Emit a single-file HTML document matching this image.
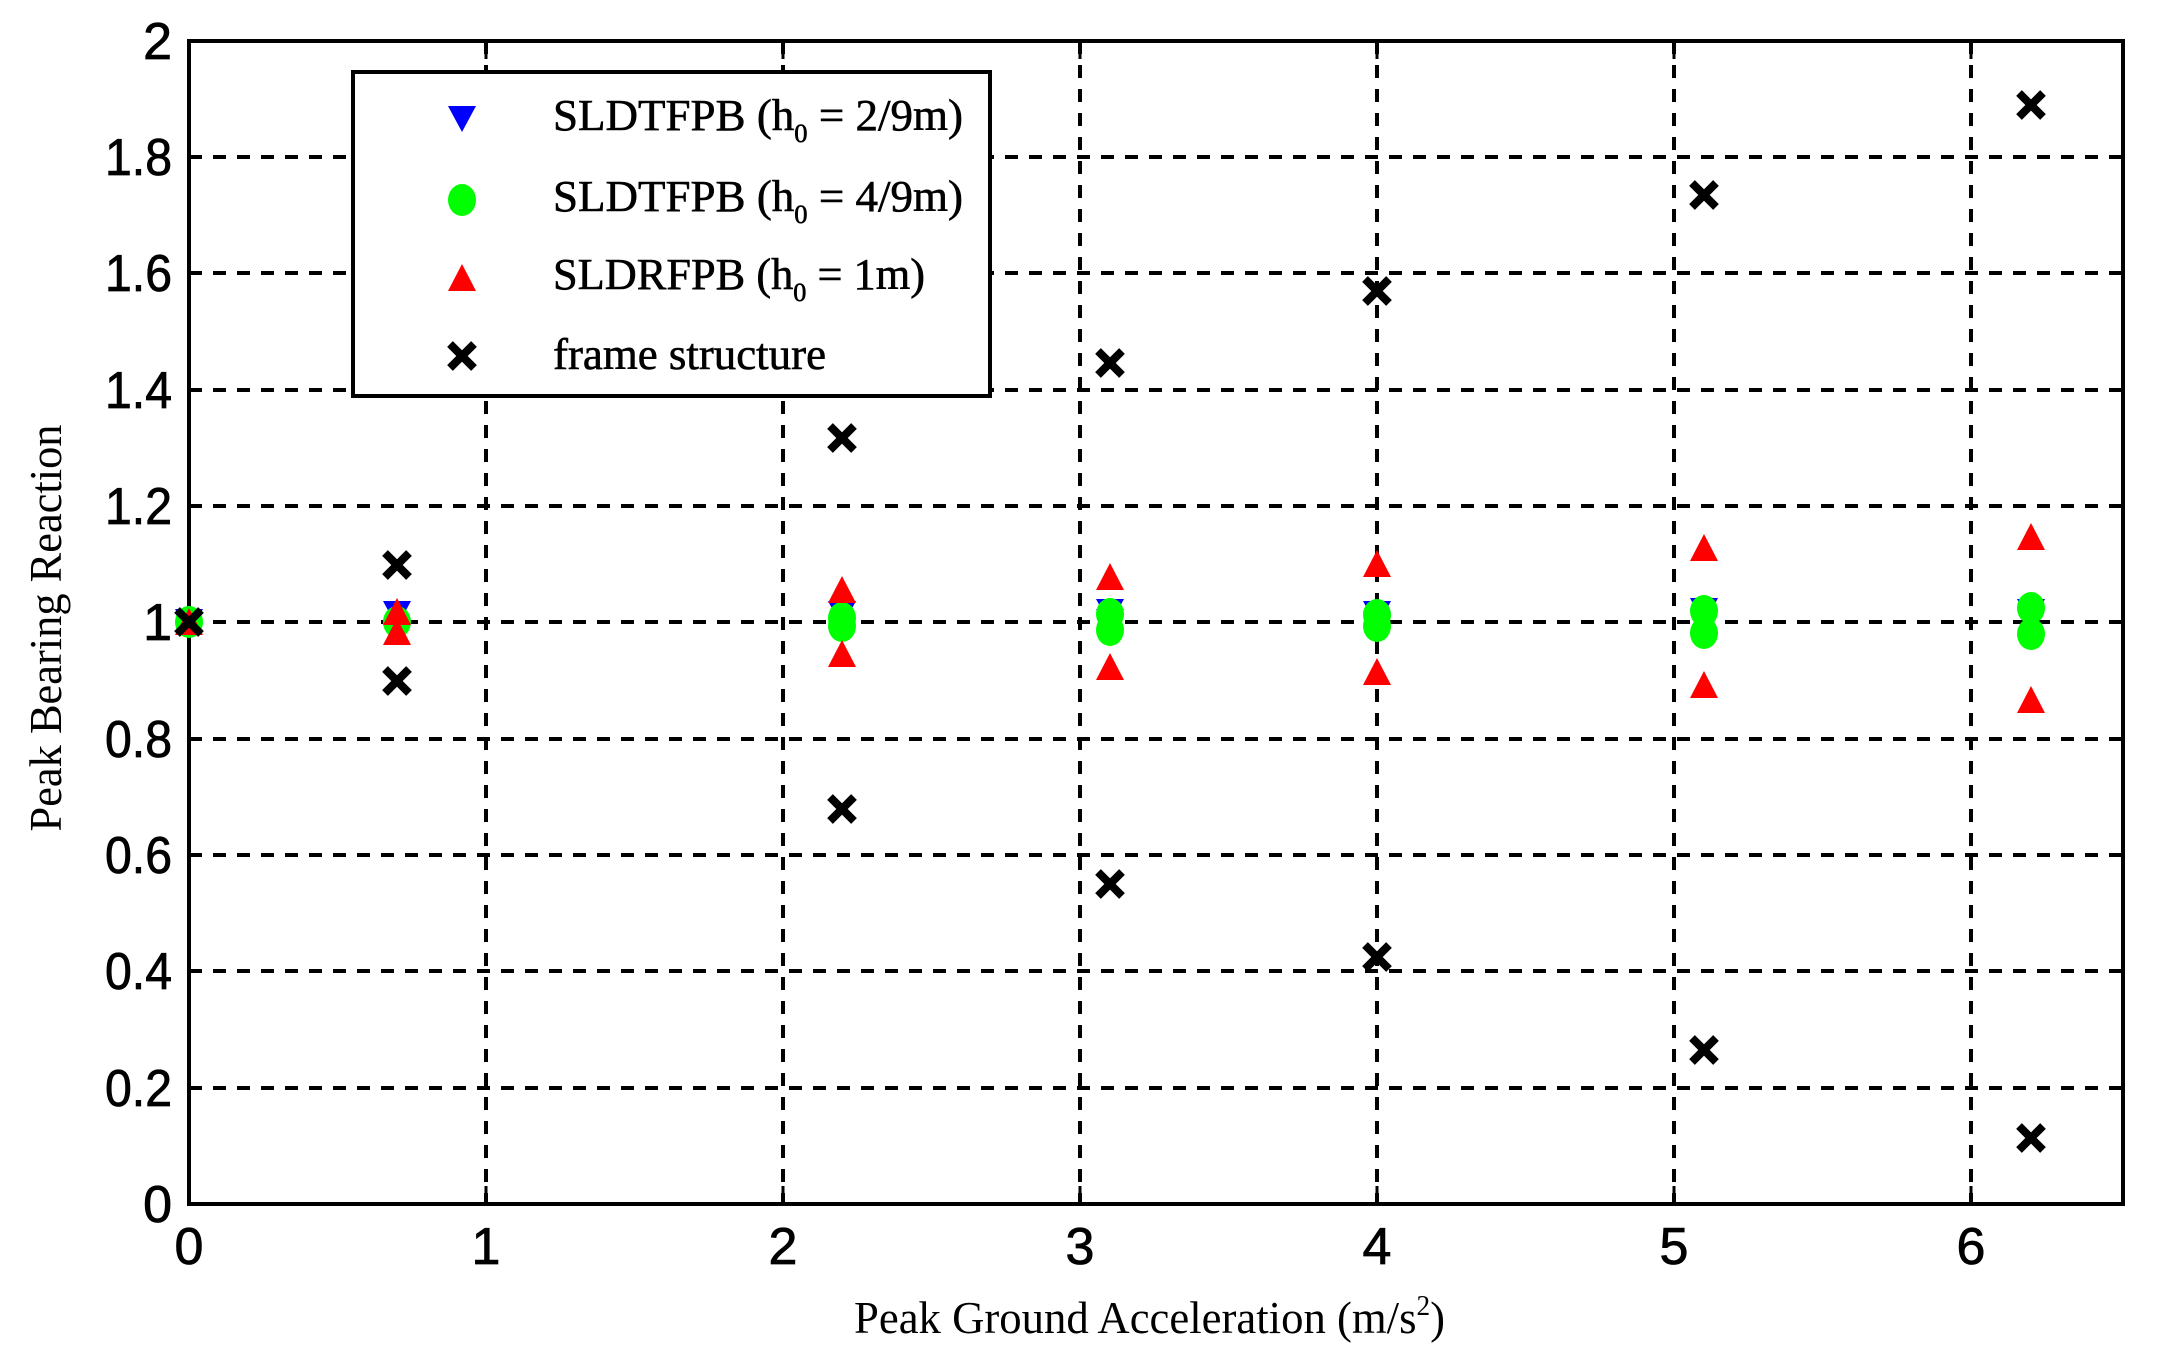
<!DOCTYPE html>
<html><head><meta charset="utf-8"><style>
html,body{margin:0;padding:0;background:#fff;}
svg{display:block;}
</style></head><body>
<svg width="2161" height="1367" viewBox="0 0 2161 1367" xmlns="http://www.w3.org/2000/svg">
<rect width="2161" height="1367" fill="#fff"/>
<g stroke="#000" stroke-width="4" stroke-dasharray="13 11" fill="none">
<line x1="486" y1="41" x2="486" y2="1204"/>
<line x1="783" y1="41" x2="783" y2="1204"/>
<line x1="1080" y1="41" x2="1080" y2="1204"/>
<line x1="1377" y1="41" x2="1377" y2="1204"/>
<line x1="1674" y1="41" x2="1674" y2="1204"/>
<line x1="1971" y1="41" x2="1971" y2="1204"/>
<line x1="189" y1="1088" x2="2123" y2="1088"/>
<line x1="189" y1="971" x2="2123" y2="971"/>
<line x1="189" y1="855" x2="2123" y2="855"/>
<line x1="189" y1="739" x2="2123" y2="739"/>
<line x1="189" y1="622" x2="2123" y2="622"/>
<line x1="189" y1="506" x2="2123" y2="506"/>
<line x1="189" y1="390" x2="2123" y2="390"/>
<line x1="189" y1="273" x2="2123" y2="273"/>
<line x1="189" y1="157" x2="2123" y2="157"/>
</g>
<g stroke="#000" stroke-width="3">
<line x1="486" y1="1204" x2="486" y2="1186"/><line x1="783" y1="1204" x2="783" y2="1186"/><line x1="1080" y1="1204" x2="1080" y2="1186"/><line x1="1377" y1="1204" x2="1377" y2="1186"/><line x1="1674" y1="1204" x2="1674" y2="1186"/><line x1="1971" y1="1204" x2="1971" y2="1186"/>
<line x1="486" y1="41" x2="486" y2="59"/><line x1="783" y1="41" x2="783" y2="59"/><line x1="1080" y1="41" x2="1080" y2="59"/><line x1="1377" y1="41" x2="1377" y2="59"/><line x1="1674" y1="41" x2="1674" y2="59"/><line x1="1971" y1="41" x2="1971" y2="59"/>
</g>
<rect x="189" y="41" width="1934" height="1163" fill="none" stroke="#000" stroke-width="4"/>
<g font-family="Liberation Sans, sans-serif" font-size="52" fill="#000" stroke="#000" stroke-width="0.8" text-anchor="end">
<text x="172" y="1222">0</text>
<text x="172" y="1106" textLength="67" lengthAdjust="spacingAndGlyphs">0.2</text>
<text x="172" y="989" textLength="67" lengthAdjust="spacingAndGlyphs">0.4</text>
<text x="172" y="873" textLength="67" lengthAdjust="spacingAndGlyphs">0.6</text>
<text x="172" y="757" textLength="67" lengthAdjust="spacingAndGlyphs">0.8</text>
<text x="172" y="640">1</text>
<text x="172" y="524" textLength="67" lengthAdjust="spacingAndGlyphs">1.2</text>
<text x="172" y="408" textLength="67" lengthAdjust="spacingAndGlyphs">1.4</text>
<text x="172" y="291" textLength="67" lengthAdjust="spacingAndGlyphs">1.6</text>
<text x="172" y="175" textLength="67" lengthAdjust="spacingAndGlyphs">1.8</text>
<text x="172" y="59">2</text>
</g>
<g font-family="Liberation Sans, sans-serif" font-size="52" fill="#000" stroke="#000" stroke-width="0.8" text-anchor="middle">
<text x="189" y="1264">0</text><text x="486" y="1264">1</text><text x="783" y="1264">2</text><text x="1080" y="1264">3</text><text x="1377" y="1264">4</text><text x="1674" y="1264">5</text><text x="1971" y="1264">6</text>
</g>
<text x="854" y="1333" font-family="Liberation Serif, serif" font-size="46" fill="#000" textLength="591" lengthAdjust="spacingAndGlyphs">Peak Ground Acceleration (m/s<tspan dy="-18" font-size="28">2</tspan><tspan dy="18">)</tspan></text>
<text transform="translate(61,628) rotate(-90)" text-anchor="middle" font-family="Liberation Serif, serif" font-size="46" fill="#000" textLength="407" lengthAdjust="spacingAndGlyphs">Peak Bearing Reaction</text>

<defs>
<path id="dn" d="M-14,-13 L14,-13 L0,13 Z" fill="#0000ff"/>
<path id="up" d="M0,-14 L14,13 L-14,13 Z" fill="#ff0000"/>
<ellipse id="ci" rx="14" ry="16" fill="#00ff00"/>
<g id="xx" stroke="#000" stroke-width="8"><line x1="-12" y1="-12" x2="12" y2="12"/><line x1="-12" y1="12" x2="12" y2="-12"/></g>
</defs>
<g>
<use href="#dn" x="189" y="622"/>
<use href="#dn" x="397" y="614"/>
<use href="#dn" x="842" y="614"/>
<use href="#dn" x="1110" y="612"/><use href="#dn" x="1110" y="622"/>
<use href="#dn" x="1377" y="614"/><use href="#dn" x="1377" y="624"/>
<use href="#dn" x="1704" y="611"/><use href="#dn" x="1704" y="622"/>
<use href="#dn" x="2031" y="612"/><use href="#dn" x="2031" y="622"/>
</g>
<g>
<use href="#ci" x="189" y="622"/>
<use href="#ci" x="397" y="622"/>
<use href="#ci" x="842" y="618"/><use href="#ci" x="842" y="626"/>
<use href="#ci" x="1110" y="614"/><use href="#ci" x="1110" y="630"/>
<use href="#ci" x="1377" y="615"/><use href="#ci" x="1377" y="626"/>
<use href="#ci" x="1704" y="611"/><use href="#ci" x="1704" y="633"/>
<use href="#ci" x="2031" y="608"/><use href="#ci" x="2031" y="634"/>
</g>
<g>
<use href="#up" x="189" y="622"/>
<use href="#up" x="397" y="612"/><use href="#up" x="397" y="632"/>
<use href="#up" x="842" y="590"/><use href="#up" x="842" y="654"/>
<use href="#up" x="1110" y="577"/><use href="#up" x="1110" y="667"/>
<use href="#up" x="1377" y="564"/><use href="#up" x="1377" y="672"/>
<use href="#up" x="1704" y="548"/><use href="#up" x="1704" y="685"/>
<use href="#up" x="2031" y="537"/><use href="#up" x="2031" y="700"/>
</g>
<g>
<use href="#xx" x="189" y="622"/>
<use href="#xx" x="397" y="565"/><use href="#xx" x="397" y="681"/>
<use href="#xx" x="842" y="438"/><use href="#xx" x="842" y="809"/>
<use href="#xx" x="1110" y="363"/><use href="#xx" x="1110" y="884"/>
<use href="#xx" x="1377" y="291"/><use href="#xx" x="1377" y="957"/>
<use href="#xx" x="1704" y="195"/><use href="#xx" x="1704" y="1050"/>
<use href="#xx" x="2031" y="105"/><use href="#xx" x="2031" y="1138"/>
</g>
<rect x="353" y="72" width="637" height="324" fill="#fff" stroke="#000" stroke-width="4"/>
<use href="#dn" x="462" y="119"/>
<use href="#ci" x="462" y="200"/>
<use href="#up" x="462" y="278"/>
<use href="#xx" x="462" y="356"/>
<g font-family="Liberation Serif, serif" font-size="44" fill="#000" stroke="#000" stroke-width="0.6">
<text x="553" y="130" textLength="410" lengthAdjust="spacingAndGlyphs">SLDTFPB (h<tspan dy="12" font-size="26">0</tspan><tspan dy="-12"> = 2/9m)</tspan></text>
<text x="553" y="211" textLength="410" lengthAdjust="spacingAndGlyphs">SLDTFPB (h<tspan dy="12" font-size="26">0</tspan><tspan dy="-12"> = 4/9m)</tspan></text>
<text x="553" y="289" textLength="372" lengthAdjust="spacingAndGlyphs">SLDRFPB (h<tspan dy="12" font-size="26">0</tspan><tspan dy="-12"> = 1m)</tspan></text>
<text x="553" y="369" textLength="273" lengthAdjust="spacingAndGlyphs">frame structure</text>
</g>
</svg>
</body></html>
